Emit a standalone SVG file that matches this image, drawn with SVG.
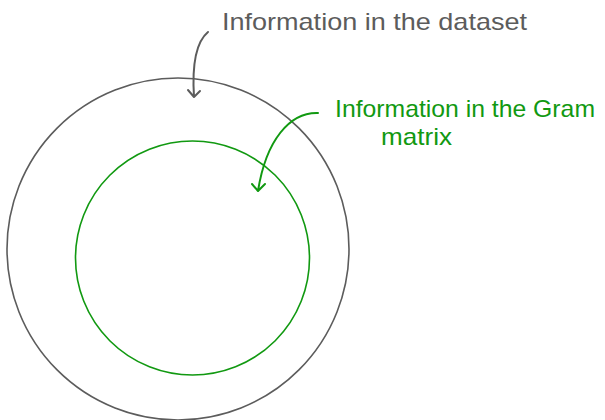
<svg xmlns="http://www.w3.org/2000/svg" width="605" height="420" viewBox="0 0 605 420">
  <style>
    .lbl { font-family: "Liberation Sans", Arial, sans-serif; font-weight: 300; font-size: 24px; }
    .gray { fill: #5c5c5c; }
    .green { fill: #119911; }
    .ring { fill: none; stroke-width: 1.6; }
    .arr { fill: none; stroke-width: 2; stroke-linecap: round; stroke-linejoin: round; }
  </style>
  <g id="dataset">
    <circle class="ring" cx="178" cy="249" r="171" stroke="#5c5c5c"/>
    <text class="lbl gray" x="222" y="30" textLength="305" lengthAdjust="spacingAndGlyphs">Information in the dataset</text>
  </g>
  <g id="gram">
    <circle class="ring" cx="192.5" cy="258" r="117" stroke="#119911"/>
    <text class="lbl green" x="335" y="117" textLength="260" lengthAdjust="spacingAndGlyphs">Information in the Gram</text>
    <text class="lbl green" x="381" y="145" textLength="71" lengthAdjust="spacingAndGlyphs">matrix</text>
  </g>
  <g id="connectors">
    <path class="arr" stroke="#5c5c5c" d="M208 32 C196 42 192 66 194 97 M188 90 L194 97 L200 91"/>
    <path class="arr" stroke="#119911" d="M318 113 C290 112 266 140 258 191 M252 184 L258 191 L265 184"/>
  </g>
</svg>
